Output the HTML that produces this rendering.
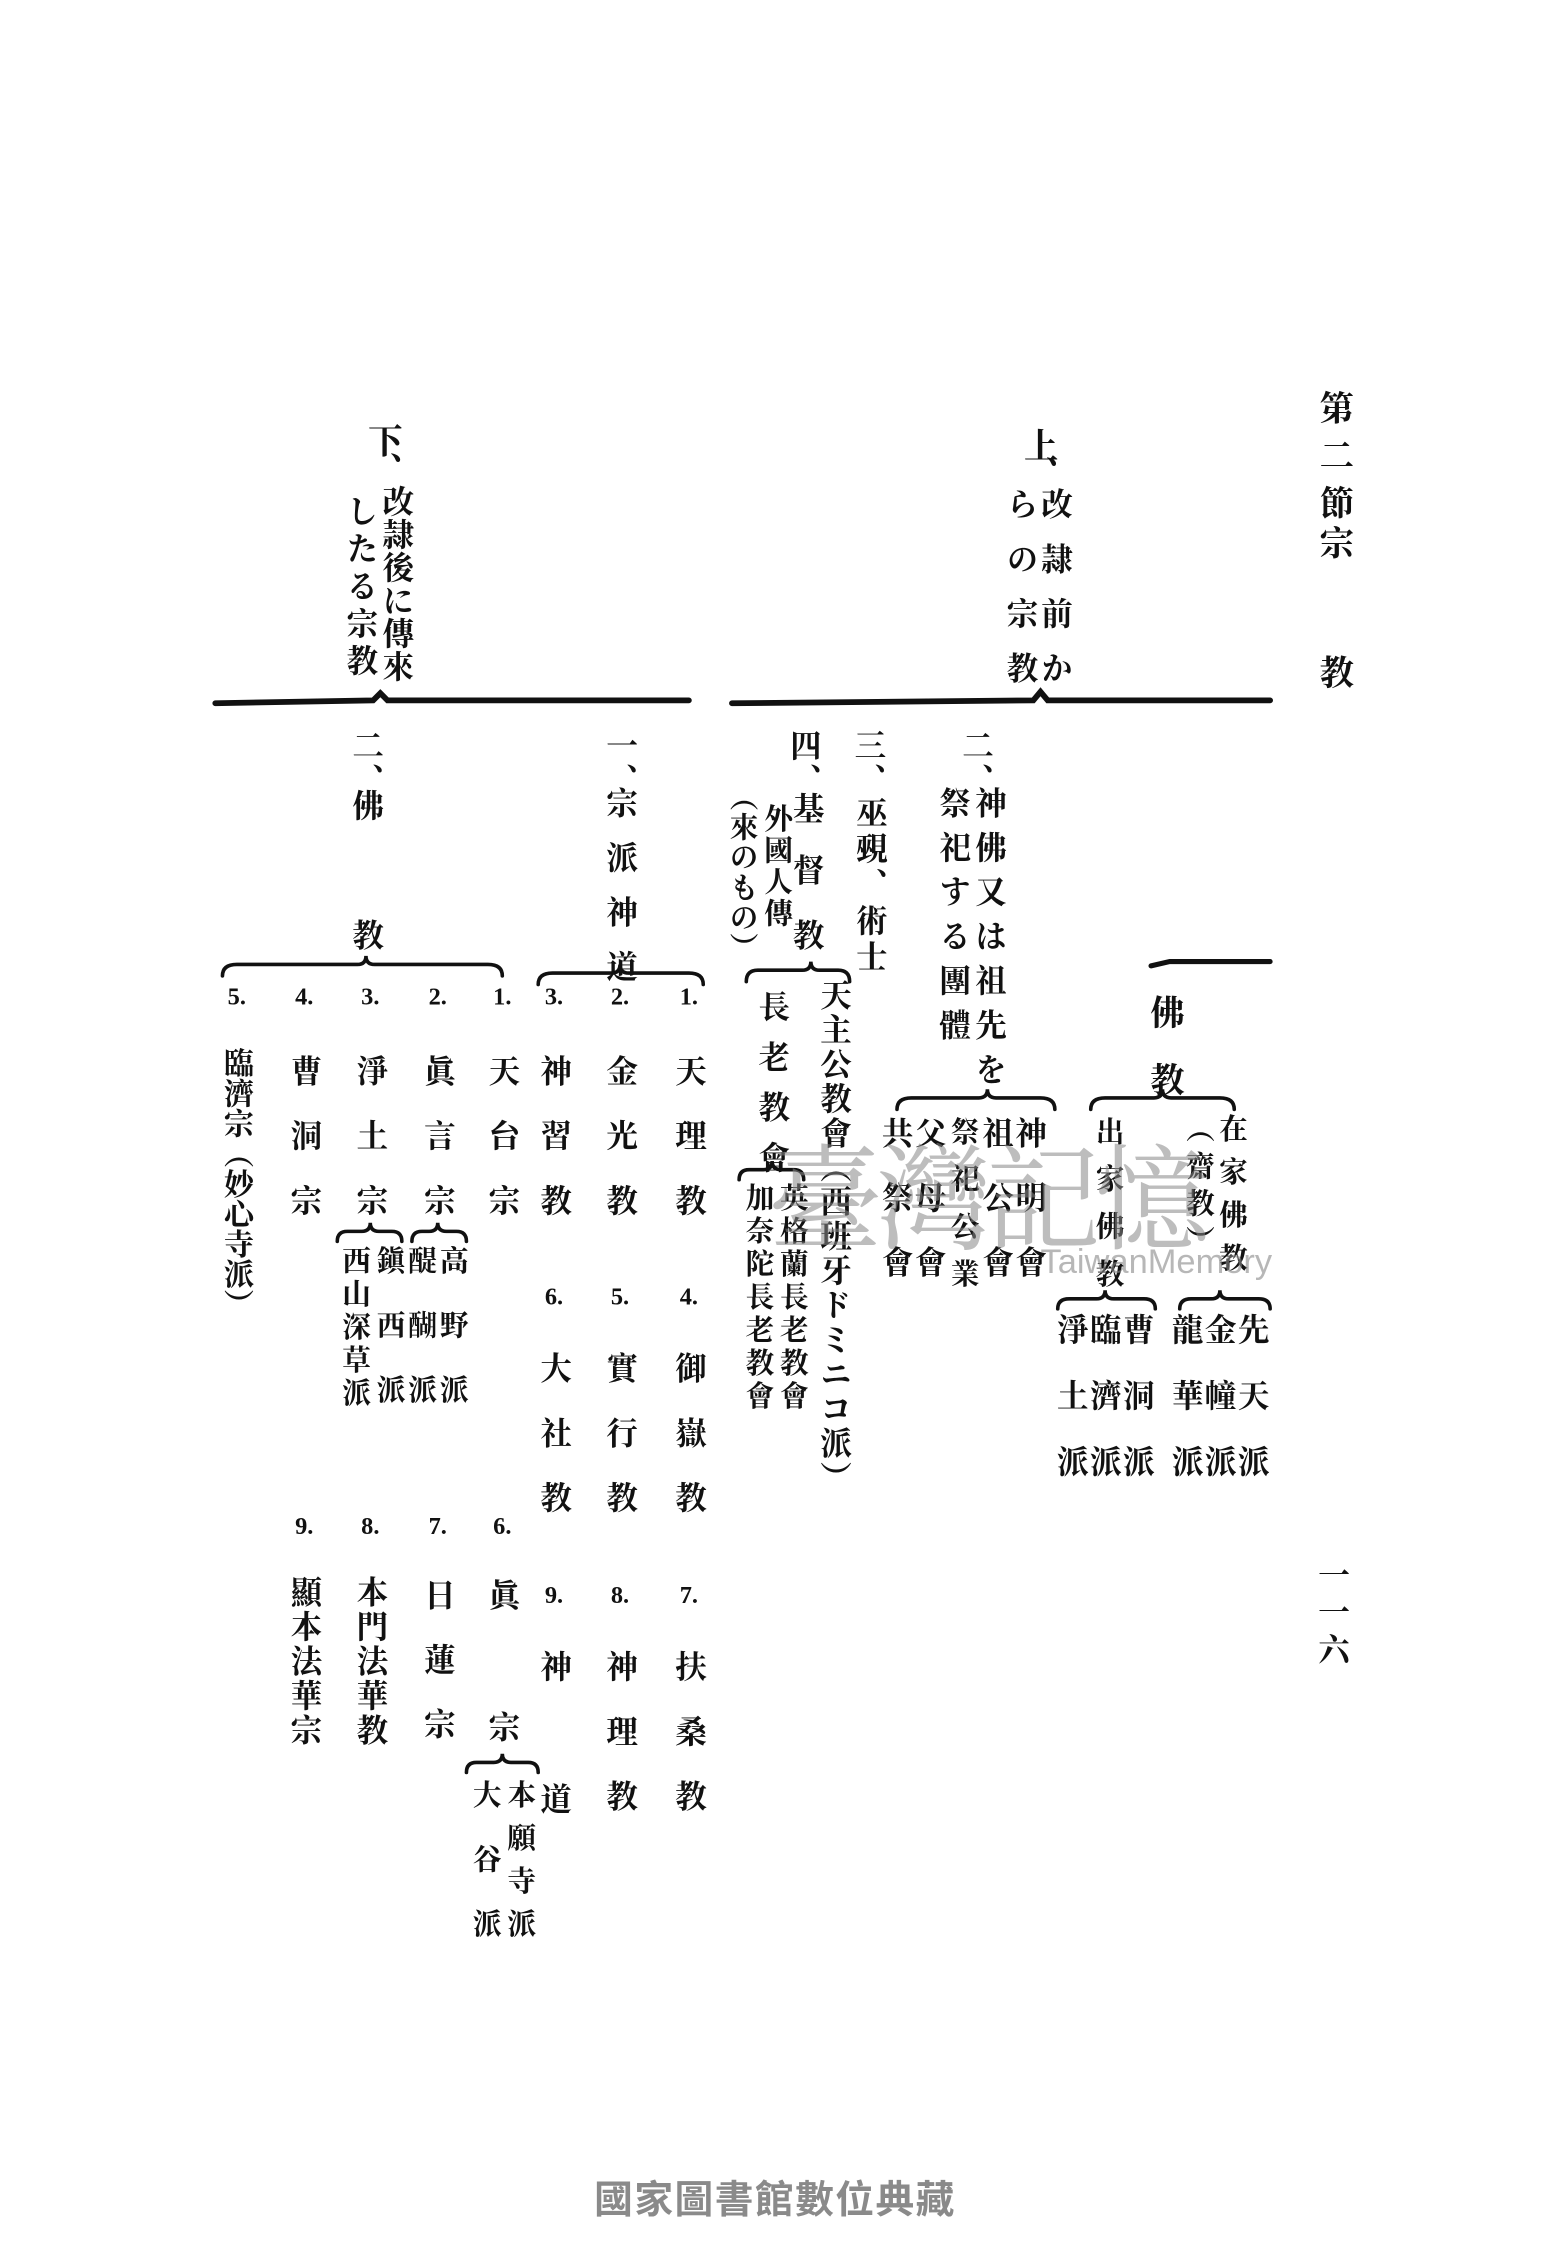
<!DOCTYPE html>
<html><head><meta charset="utf-8">
<style>
html,body{margin:0;padding:0;background:#fff;}
#wrap{position:relative;width:1550px;height:2250px;overflow:hidden;background:#fff;}
#s{position:absolute;left:0;top:0;width:1080px;height:1568px;transform:scale(1.43518);transform-origin:0 0;}
.v{position:absolute;writing-mode:vertical-rl;line-height:1;font-weight:bold;white-space:nowrap;transform:translateX(-50%);
font-family:"Liberation Serif","Noto Serif CJK SC","Noto Sans CJK JP",serif;color:#111;font-size:22px;}
.n{font-size:17px;font-family:"Liberation Serif",serif;writing-mode:horizontal-tb;}
</style></head><body><div id="wrap"><div id="s">
<svg width="1080" height="1568" style="position:absolute;left:0;top:0" fill="none" stroke="#111" stroke-linecap="round">
<path d="M150,490 L260,488 L265,483 L270,488 L480,488" stroke-width="4"/>
<path d="M510,490 L720,488 L725,482 L730,488 L885,488" stroke-width="4"/>
<path d="M802,673 L815,670 L885,670" stroke-width="3.5"/>
<g stroke-width="2.5">
<path d="M155,680 Q155,672 165,672 L249,672 Q255,672 255,666 Q255,672 261,672 L340,672 Q350,672 350,680"/>
<path d="M375,686 Q375,678 385,678 L426,678 Q432,678 432,672 Q432,678 438,678 L480,678 Q490,678 490,686"/>
<path d="M760,773 Q760,765 770,765 L804,765 Q810,765 810,759 Q810,765 816,765 L850,765 Q860,765 860,773"/>
<path d="M625,773 Q625,765 635,765 L682,765 Q688,765 688,759 Q688,765 694,765 L725,765 Q735,765 735,773"/>
<path d="M822,912 Q822,905 830,905 L844,905 Q850,905 850,899 Q850,905 856,905 L877,905 Q885,905 885,912"/>
<path d="M737,912 Q737,905 745,905 L764,905 Q770,905 770,899 Q770,905 776,905 L797,905 Q805,905 805,912"/>
<path d="M520,684 Q520,676 528,676 L559,676 Q565,676 565,670 Q565,676 571,676 L584,676 Q592,676 592,684"/>
<path d="M515,822 Q515,815 522,815 L532,815 Q538,815 538,809 Q538,815 544,815 L553,815 Q560,815 560,822"/>
<path d="M325,1235 Q325,1228 332,1228 L344,1228 Q350,1228 350,1222 Q350,1228 356,1228 L368,1228 Q375,1228 375,1235"/>
<path d="M287,865 Q287,858 294,858 L299,858 Q305,858 305,852 Q305,858 311,858 L318,858 Q325,858 325,865"/>
<path d="M235,865 Q235,858 242,858 L252,858 Q258,858 258,852 Q258,858 264,858 L273,858 Q280,858 280,865"/>
</g></svg>

<div class="v" style="left:928px;top:272px;font-size:24px;letter-spacing:9px">第二節</div>
<div class="v" style="left:928px;top:366px;font-size:24px">宗</div>
<div class="v" style="left:928px;top:456px;font-size:24px">教</div>
<div class="v" style="left:928px;top:1086px;font-size:22px;letter-spacing:4px">一一六</div>

<div class="v" style="left:722px;top:298px;font-size:24px;letter-spacing:-4px">上、</div>
<div class="v" style="left:735px;top:340px;letter-spacing:16px">改隷前か</div>
<div class="v" style="left:711px;top:340px;letter-spacing:16px">らの宗教</div>

<div class="v" style="left:265px;top:295px;font-size:24px;letter-spacing:-4px">下、</div>
<div class="v" style="left:276px;top:338px;letter-spacing:1px">改隷後に傳來</div>
<div class="v" style="left:251px;top:345px;letter-spacing:4px">したる宗教</div>

<div class="v" style="left:680px;top:508px;letter-spacing:2px">二、</div>
<div class="v" style="left:689px;top:548px;letter-spacing:9px">神佛又は祖先を</div>
<div class="v" style="left:664px;top:548px;letter-spacing:9px">祭祀する團體</div>
<div class="v" style="left:605px;top:508px;letter-spacing:2px">三、</div>
<div class="v" style="left:606px;top:555px;letter-spacing:3px">巫覡、術士</div>
<div class="v" style="left:560px;top:508px;letter-spacing:2px">四、</div>
<div class="v" style="left:562px;top:552px">基</div>
<div class="v" style="left:562px;top:595px">督</div>
<div class="v" style="left:562px;top:640px">教</div>
<div class="v" style="left:540px;top:560px;font-size:20px;letter-spacing:2px">外國人傳</div>
<div class="v" style="left:516px;top:545px;font-size:20px;letter-spacing:1px">（來のもの）</div>

<div class="v" style="left:810px;top:693px;font-size:24px">佛</div>
<div class="v" style="left:810px;top:740px;font-size:24px">教</div>
<div class="v" style="left:857px;top:776px;font-size:20px;letter-spacing:10px">在家佛教</div>
<div class="v" style="left:834px;top:776px;font-size:20px;letter-spacing:6px">（齋教）</div>
<div class="v" style="left:771px;top:778px;font-size:20px;letter-spacing:13px">出家佛教</div>
<div class="v" style="left:872px;top:915px;letter-spacing:24px">先天派</div>
<div class="v" style="left:849px;top:915px;letter-spacing:24px">金幢派</div>
<div class="v" style="left:826px;top:915px;letter-spacing:24px">龍華派</div>
<div class="v" style="left:792px;top:915px;letter-spacing:24px">曹洞派</div>
<div class="v" style="left:769px;top:915px;letter-spacing:24px">臨濟派</div>
<div class="v" style="left:746px;top:915px;letter-spacing:24px">淨土派</div>

<div class="v" style="left:717px;top:778px;letter-spacing:23px">神明會</div>
<div class="v" style="left:694px;top:778px;letter-spacing:23px">祖公會</div>
<div class="v" style="left:670px;top:778px;font-size:20px;letter-spacing:13px">祭祀公業</div>
<div class="v" style="left:647px;top:778px;letter-spacing:23px">父母會</div>
<div class="v" style="left:624px;top:778px;letter-spacing:23px">共祭會</div>

<div class="v" style="left:581px;top:682px;letter-spacing:2px">天主公教會（西班牙ドミニコ派）</div>
<div class="v" style="left:538px;top:690px;letter-spacing:13px">長老教會</div>
<div class="v" style="left:551px;top:824px;font-size:20px;letter-spacing:3px">英格蘭長老教會</div>
<div class="v" style="left:527px;top:824px;font-size:20px;letter-spacing:3px">加奈陀長老教會</div>

<div class="v" style="left:432px;top:508px;letter-spacing:2px">一、</div>
<div class="v" style="left:432px;top:548px;letter-spacing:16px">宗派神道</div>
<div class="v" style="left:255px;top:508px;letter-spacing:2px">二、</div>
<div class="v" style="left:255px;top:550px">佛</div>
<div class="v" style="left:255px;top:640px">教</div>

<div class="v n" style="left:480px;top:686px">1.</div>
<div class="v" style="left:480px;top:735px;letter-spacing:23px">天理教</div>
<div class="v n" style="left:480px;top:895px">4.</div>
<div class="v" style="left:480px;top:942px;letter-spacing:23px">御嶽教</div>
<div class="v n" style="left:480px;top:1103px">7.</div>
<div class="v" style="left:480px;top:1150px;letter-spacing:23px">扶桑教</div>

<div class="v n" style="left:432px;top:686px">2.</div>
<div class="v" style="left:432px;top:735px;letter-spacing:23px">金光教</div>
<div class="v n" style="left:432px;top:895px">5.</div>
<div class="v" style="left:432px;top:942px;letter-spacing:23px">實行教</div>
<div class="v n" style="left:432px;top:1103px">8.</div>
<div class="v" style="left:432px;top:1150px;letter-spacing:23px">神理教</div>

<div class="v n" style="left:386px;top:686px">3.</div>
<div class="v" style="left:386px;top:735px;letter-spacing:23px">神習教</div>
<div class="v n" style="left:386px;top:895px">6.</div>
<div class="v" style="left:386px;top:942px;letter-spacing:23px">大社教</div>
<div class="v n" style="left:386px;top:1103px">9.</div>
<div class="v" style="left:386px;top:1150px">神</div>
<div class="v" style="left:386px;top:1242px">道</div>

<div class="v n" style="left:350px;top:686px">1.</div>
<div class="v" style="left:350px;top:735px;letter-spacing:23px">天台宗</div>
<div class="v n" style="left:305px;top:686px">2.</div>
<div class="v" style="left:305px;top:735px;letter-spacing:23px">眞言宗</div>
<div class="v" style="left:314px;top:868px;font-size:20px;letter-spacing:25px">高野派</div>
<div class="v" style="left:292px;top:868px;font-size:20px;letter-spacing:25px">醍醐派</div>
<div class="v n" style="left:258px;top:686px">3.</div>
<div class="v" style="left:258px;top:735px;letter-spacing:23px">淨土宗</div>
<div class="v" style="left:270px;top:868px;font-size:20px;letter-spacing:25px">鎭西派</div>
<div class="v" style="left:246px;top:868px;font-size:20px;letter-spacing:3px">西山深草派</div>
<div class="v n" style="left:212px;top:686px">4.</div>
<div class="v" style="left:212px;top:735px;letter-spacing:23px">曹洞宗</div>
<div class="v n" style="left:165px;top:686px">5.</div>
<div class="v" style="left:165px;top:730px;font-size:21px;letter-spacing:0px">臨濟宗（妙心寺派）</div>

<div class="v n" style="left:350px;top:1055px">6.</div>
<div class="v" style="left:350px;top:1100px">眞</div>
<div class="v" style="left:350px;top:1192px">宗</div>
<div class="v" style="left:361px;top:1240px;font-size:20px;letter-spacing:10px">本願寺派</div>
<div class="v" style="left:337px;top:1240px;font-size:20px;letter-spacing:25px">大谷派</div>
<div class="v n" style="left:305px;top:1055px">7.</div>
<div class="v" style="left:305px;top:1100px;letter-spacing:23px">日蓮宗</div>
<div class="v n" style="left:258px;top:1055px">8.</div>
<div class="v" style="left:258px;top:1098px;letter-spacing:2px">本門法華教</div>
<div class="v n" style="left:212px;top:1055px">9.</div>
<div class="v" style="left:212px;top:1098px;letter-spacing:2px">顯本法華宗</div>

<div style="position:absolute;left:535px;top:790px;font-size:80px;line-height:1;color:#888;opacity:.55;font-family:'Noto Serif CJK SC',serif;letter-spacing:-4px">臺灣記憶</div>
<div style="position:absolute;left:725px;top:868px;font-size:24px;line-height:1;color:#888;opacity:.6;font-family:'Liberation Sans',sans-serif">TaiwanMemory</div>

<div style="position:absolute;left:0;width:1080px;top:1520px;text-align:center;font-size:27px;line-height:1;color:#8a8a8a;font-family:'Liberation Sans','Noto Sans CJK TC',sans-serif;font-weight:bold;letter-spacing:1px">國家圖書館數位典藏</div>
</div></div></body></html>
